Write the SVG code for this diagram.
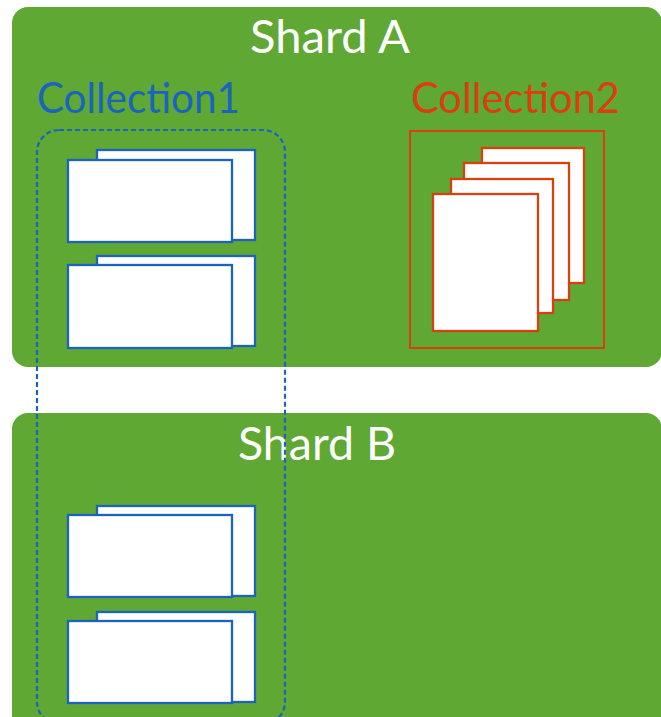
<svg xmlns="http://www.w3.org/2000/svg" width="661" height="717" viewBox="0 0 661 717">
<style>
.shard{fill:#5ea833}
.title{font-family:Lato,"Open Sans","DejaVu Sans",sans-serif;fill:#ffffff;font-size:47px}
.lbl{font-family:Lato,"Open Sans","DejaVu Sans",sans-serif;font-size:42px}
.doc{fill:#ffffff;stroke:#1a64bd;stroke-width:2.3}
.page{fill:#ffffff;stroke:#d8400f;stroke-width:2.3}
</style>
<rect width="661" height="717" fill="#ffffff"/>
<g id="shardA">
<rect class="shard" x="12" y="7" width="650" height="360" rx="16" ry="16"/>
<text class="title" x="250" y="53" textLength="160" lengthAdjust="spacingAndGlyphs">Shard A</text>
</g>
<g id="shardB">
<rect class="shard" x="12" y="413" width="650" height="320" rx="16" ry="16"/>
<text class="title" x="238" y="460" textLength="158" lengthAdjust="spacingAndGlyphs">Shard B</text>
</g>
<g id="collection1">
<text class="lbl" x="37" y="113" fill="#1a64bd" textLength="203" lengthAdjust="spacingAndGlyphs">Collection1</text>
<rect x="37" y="130" width="248" height="594" rx="22" ry="22" fill="none" stroke="#1a64bd" stroke-width="2.2" stroke-dasharray="5 3"/>
</g>
<g id="c1-stack1">
<rect class="doc" x="97" y="150" width="158" height="90"/>
<rect class="doc" x="68" y="160" width="164" height="82"/>
</g>
<g id="c1-stack2">
<rect class="doc" x="97" y="256" width="158" height="90"/>
<rect class="doc" x="68" y="265" width="164" height="83"/>
</g>
<g id="c1-stack3">
<rect class="doc" x="97" y="506" width="158" height="90"/>
<rect class="doc" x="68" y="515" width="164" height="82"/>
</g>
<g id="c1-stack4">
<rect class="doc" x="97" y="612" width="158" height="90"/>
<rect class="doc" x="68" y="621" width="164" height="82"/>
</g>
<g id="collection2">
<text class="lbl" x="411" y="113" fill="#d8400f" textLength="209" lengthAdjust="spacingAndGlyphs">Collection2</text>
<rect x="410" y="131" width="194" height="217" fill="none" stroke="#d8400f" stroke-width="2"/>
<rect class="page" x="482" y="148" width="102" height="135"/>
<rect class="page" x="464" y="163" width="105" height="137"/>
<rect class="page" x="451" y="179" width="102" height="134"/>
<rect class="page" x="433" y="194" width="105" height="137"/>
</g>
<g id="connectors"></g>
</svg>
